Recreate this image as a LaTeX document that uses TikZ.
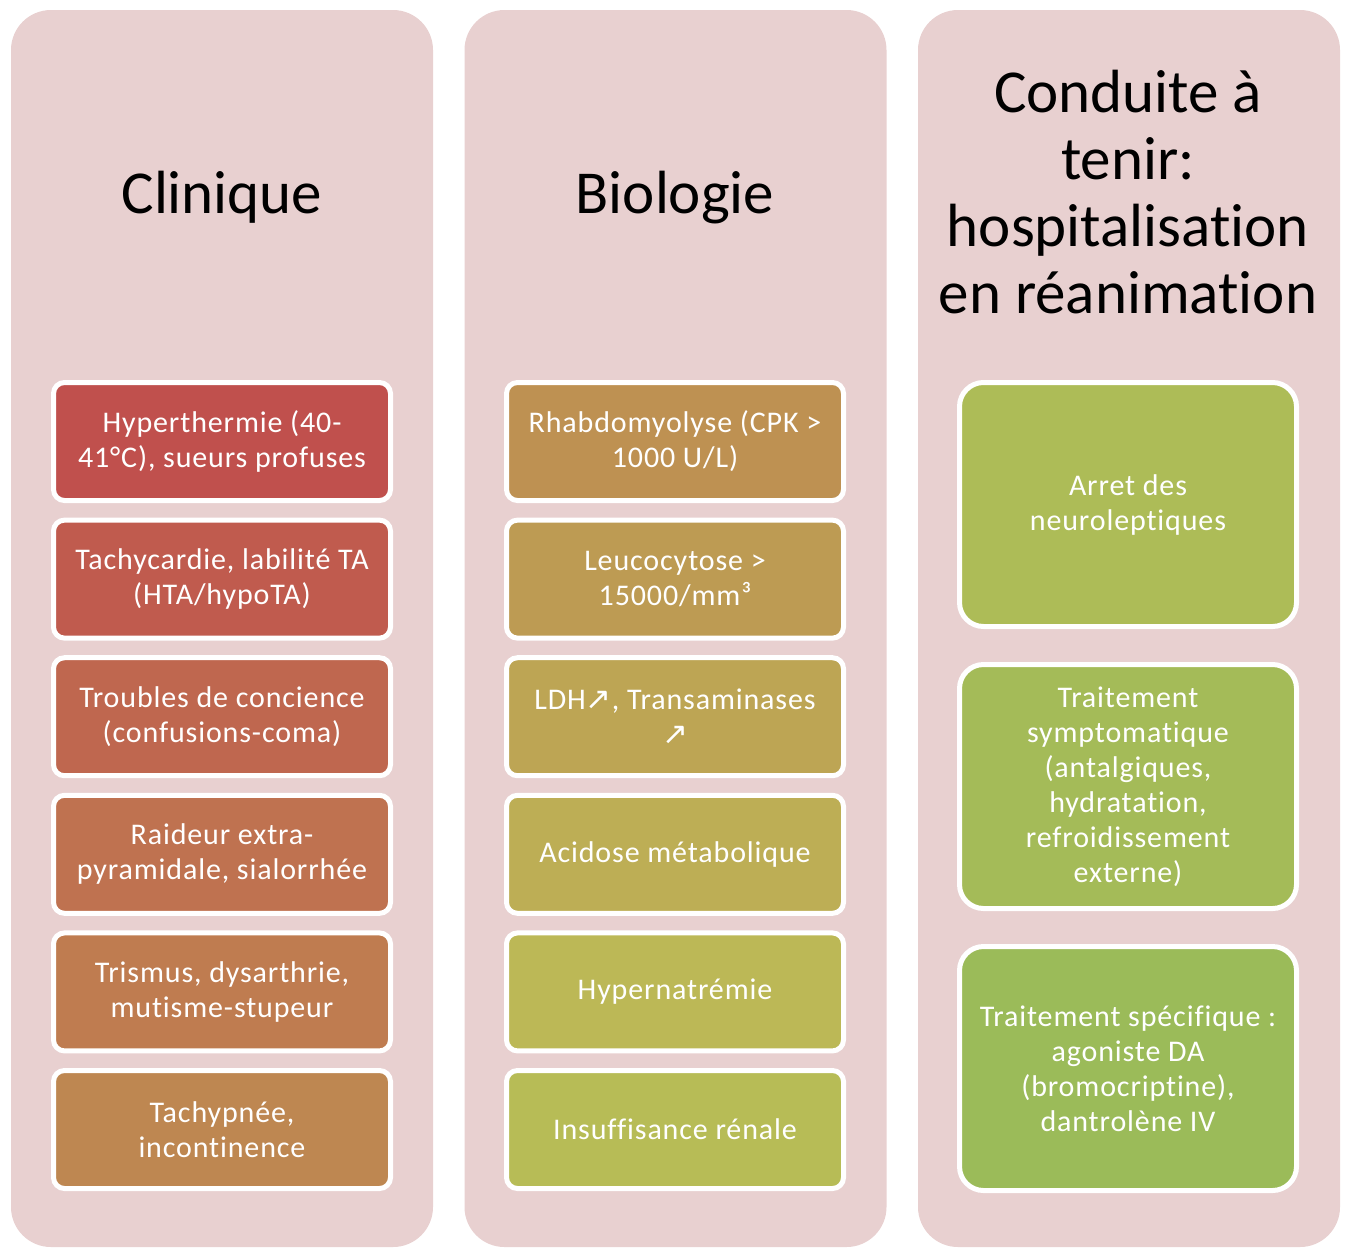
\documentclass[tikz,border=0pt]{standalone}
\usepackage{fontspec}
\setmainfont{Carlito}[Ligatures=NoCommon]
\newfontfamily\boxfont{Carlito}[Ligatures=NoCommon, LetterSpace=2.9]
\newfontfamily\arrowfont{DejaVu Sans}
\definecolor{bgpink}{HTML}{E8D0D0}
\definecolor{c0}{HTML}{C0504D}
\definecolor{c1}{HTML}{C05B4E}
\definecolor{c2}{HTML}{BF674F}
\definecolor{c3}{HTML}{BF7250}
\definecolor{c4}{HTML}{BF7C50}
\definecolor{c5}{HTML}{BE8751}
\definecolor{c6}{HTML}{BE9152}
\definecolor{c7}{HTML}{BD9B53}
\definecolor{c8}{HTML}{BDA554}
\definecolor{c9}{HTML}{BDAE55}
\definecolor{c10}{HTML}{BCB856}
\definecolor{c11}{HTML}{B7BC56}
\definecolor{c12}{HTML}{ADBC57}
\definecolor{c13}{HTML}{A4BB58}
\definecolor{c14}{HTML}{9BBB59}
\newcommand{\ua}{{\arrowfont\fontsize{31}{35}\selectfont ↗}}
\begin{document}
\begin{tikzpicture}[x=1pt,y=-1pt,
  colbg/.style={fill=bgpink, rounded corners=40pt},
  itembox/.style={draw=white, line width=5pt, rounded corners=11pt,
    minimum width=337pt, minimum height=118pt, text=white,
    font=\boxfont\fontsize{30}{35}\selectfont, align=center, inner sep=0pt},
  bigbox/.style={itembox, rounded corners=24pt, minimum height=244pt},
  coltitle/.style={font=\fontsize{61}{67}\selectfont, anchor=base, align=center, inner sep=0pt}
]
\useasboundingbox (0,0) rectangle (1346,1248);
% column backgrounds
\fill[colbg] (11,10) rectangle (433,1247);
\fill[colbg] (464.5,10) rectangle (886.5,1247);
\fill[colbg] (918,10) rectangle (1340,1247);
% titles
\node[coltitle] (t1) at (222,213) {Clinique};
\node[coltitle] (t2) at (675,213) {Biologie};
\node[coltitle] (t3) at (1128,313) {Conduite à\\tenir:\\hospitalisation\\en réanimation};
% column 1
\node[itembox, fill=c0] (a1) at (222,441.5) {Hyperthermie (40-\\41°C), sueurs profuses};
\node[itembox, fill=c1] (a2) at (222,579.1) {Tachycardie, labilité TA\\(HTA/hypoTA)};
\node[itembox, fill=c2] (a3) at (222,716.7) {Troubles de concience\\(confusions-coma)};
\node[itembox, fill=c3] (a4) at (222,854.3) {Raideur extra-\\pyramidale, sialorrhée};
\node[itembox, fill=c4] (a5) at (222,991.9) {Trismus, dysarthrie,\\mutisme-stupeur};
\node[itembox, fill=c5] (a6) at (222,1129.5) {Tachypnée,\\incontinence};
% column 2
\node[itembox, fill=c6] (b1) at (675,441.5) {Rhabdomyolyse (CPK >\\1000 U/L)};
\node[itembox, fill=c7] (b2) at (675,579.1) {Leucocytose >\\15000/mm³};
\node[itembox, fill=c8] (b3) at (675,716.7) {LDH\ua, Transaminases\\\ua};
\node[itembox, fill=c9] (b4) at (675,854.3) {Acidose métabolique};
\node[itembox, fill=c10] (b5) at (675,991.9) {Hypernatrémie};
\node[itembox, fill=c11] (b6) at (675,1129.5) {Insuffisance rénale};
% column 3
\node[bigbox, fill=c12] (c1) at (1128,504.5) {Arret des\\neuroleptiques};
\node[bigbox, fill=c13] (c2) at (1128,786.5) {Traitement\\symptomatique\\(antalgiques,\\hydratation,\\refroidissement\\externe)};
\node[bigbox, fill=c14] (c3) at (1128,1068.5) {Traitement spécifique :\\agoniste DA\\(bromocriptine),\\dantrolène IV};
\end{tikzpicture}
\end{document}
